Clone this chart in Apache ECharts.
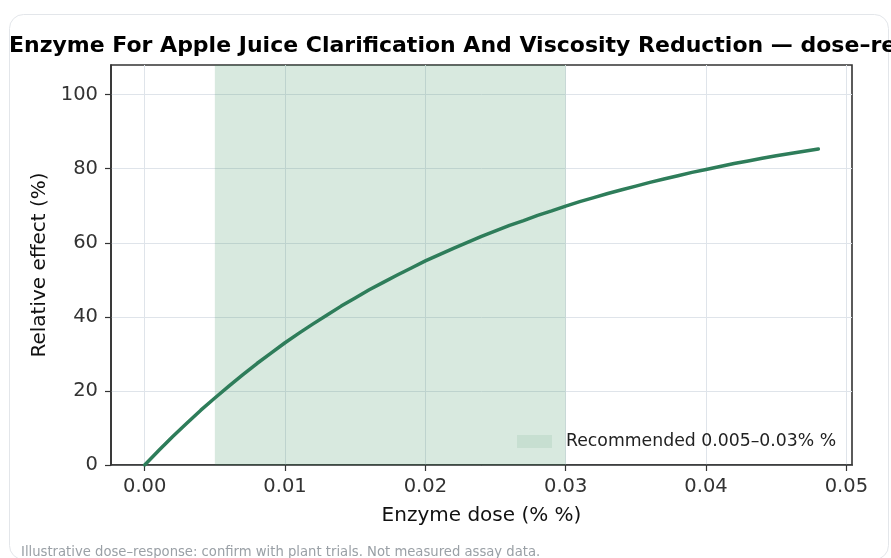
<!DOCTYPE html>
<html>
<head>
<meta charset="utf-8">
<script src="https://cdn.jsdelivr.net/npm/echarts@6/dist/echarts.min.js"></script>
<style>
html,body{margin:0;padding:0;background:#fff;}
#chart{width:891px;height:558px;}
</style>
</head>
<body>
<div id="chart"></div>
<script>
// Data
const doses = [0, 0.001, 0.002, 0.003, 0.004, 0.005, 0.006, 0.007, 0.008, 0.009, 0.010,
               0.011, 0.012, 0.013, 0.014, 0.015, 0.016, 0.017, 0.018, 0.019, 0.020,
               0.021, 0.022, 0.023, 0.024, 0.025, 0.026, 0.027, 0.028, 0.029, 0.030,
               0.031, 0.032, 0.033, 0.034, 0.035, 0.036, 0.037, 0.038, 0.039, 0.040,
               0.041, 0.042, 0.043, 0.044, 0.045, 0.046, 0.047, 0.048];
const effects = [0, 3.9, 7.7, 11.3, 14.8, 18.1, 21.3, 24.4, 27.4, 30.2, 33.0,
                 35.6, 38.1, 40.5, 42.9, 45.1, 47.3, 49.3, 51.3, 53.2, 55.1,
                 56.8, 58.5, 60.1, 61.7, 63.2, 64.7, 66.0, 67.4, 68.6, 69.9,
                 71.1, 72.2, 73.3, 74.3, 75.3, 76.3, 77.2, 78.1, 79.0, 79.8,
                 80.6, 81.4, 82.1, 82.8, 83.5, 84.1, 84.7, 85.3];
const recommendedRange = [0.005, 0.03];
const xTicks = [0, 0.01, 0.02, 0.03, 0.04, 0.05];
const yTicks = [0, 20, 40, 60, 80, 100];
const titleText = 'Enzyme For Apple Juice Clarification And Viscosity Reduction — dose–response';
const xName = 'Enzyme dose (% %)';
const yName = 'Relative effect (%)';
const legendName = 'Recommended 0.005–0.03% %';
const footerText = 'Illustrative dose–response: confirm with plant trials. Not measured assay data.';

const FONT = 'DejaVu Sans';
const chart = echarts.init(document.getElementById('chart'), null, {renderer: 'canvas'});
const spanColor = 'rgba(46,139,87,0.19)';
const legendPatch = 'rgba(46,139,87,0.10)';

chart.setOption({
  animation: false,
  backgroundColor: '#ffffff',
  graphic: [
    {type: 'rect', z: -10, silent: true,
     shape: {x: 9.5, y: 14.5, width: 879, height: 545, r: 14},
     style: {fill: '#ffffff', stroke: '#e3e6ea', lineWidth: 1}},
    {type: 'text', left: 21, top: 546, silent: true,
     style: {text: footerText, font: '13.2px "' + FONT + '"', fill: '#9aa0a6'}},
    {type: 'text', x: 9, y: 35, silent: true,
     style: {text: titleText, font: 'bold 22px "' + FONT + '"', fill: '#000000', textAlign: 'left', textVerticalAlign: 'top'}}
  ],
  grid: {left: 111, top: 65, width: 741, height: 400, show: true, borderColor: '#333333', borderWidth: 1.6, backgroundColor: 'transparent', containLabel: false},
  legend: {
    show: true, left: 517, top: 433, orient: 'vertical', padding: 0,
    itemWidth: 35, itemHeight: 13, itemGap: 0,
    textStyle: {fontFamily: FONT, fontSize: 17.3, color: '#222222', padding: [0, 0, 0, 9]},
    data: [{name: legendName, icon: 'path://M0,0L35,0L35,13L0,13Z',
            itemStyle: {color: legendPatch, borderWidth: 0}}]
  },
  xAxis: {
    type: 'value', min: -0.0024, max: 0.0504,
    name: xName, nameLocation: 'middle', nameGap: 41,
    nameTextStyle: {fontFamily: FONT, fontSize: 20, color: '#111111'},
    axisLine: {show: true, onZero: false, lineStyle: {color: '#333333', width: 1.6}},
    axisTick: {show: true, length: 6, inside: false, customValues: xTicks, lineStyle: {color: '#333333', width: 1.2}},
    axisLabel: {customValues: xTicks, margin: 12, fontFamily: FONT, fontSize: 19.5, color: '#333333',
                formatter: v => v.toFixed(2)},
    splitLine: {show: true, lineStyle: {color: '#dfe4ea', width: 1}}
  },
  yAxis: {
    type: 'value', min: 0, max: 108,
    name: yName, nameLocation: 'middle', nameGap: 58, nameRotate: 90,
    nameTextStyle: {fontFamily: FONT, fontSize: 20, color: '#111111'},
    axisLine: {show: true, onZero: false, lineStyle: {color: '#333333', width: 1.6}},
    axisTick: {show: true, length: 6, inside: false, customValues: yTicks, lineStyle: {color: '#333333', width: 1.2}},
    axisLabel: {customValues: yTicks, margin: 13, fontFamily: FONT, fontSize: 19.5, color: '#333333'},
    splitLine: {show: true, lineStyle: {color: '#dfe4ea', width: 1}}
  },
  series: [
    {
      name: legendName, type: 'line', data: [], z: 1, showSymbol: false,
      itemStyle: {color: spanColor},
      lineStyle: {width: 0, color: spanColor},
      markArea: {
        silent: true,
        itemStyle: {color: spanColor},
        data: [[{xAxis: recommendedRange[0]}, {xAxis: recommendedRange[1]}]]
      }
    },
    {
      name: 'effect', type: 'line', z: 5, smooth: false, showSymbol: false,
      data: doses.map((d, i) => [d, effects[i]]),
      lineStyle: {color: '#2e7d5a', width: 3.5, cap: 'round', join: 'round'},
      itemStyle: {color: '#2e7d5a'}
    }
  ]
});
</script>
</body>
</html>
